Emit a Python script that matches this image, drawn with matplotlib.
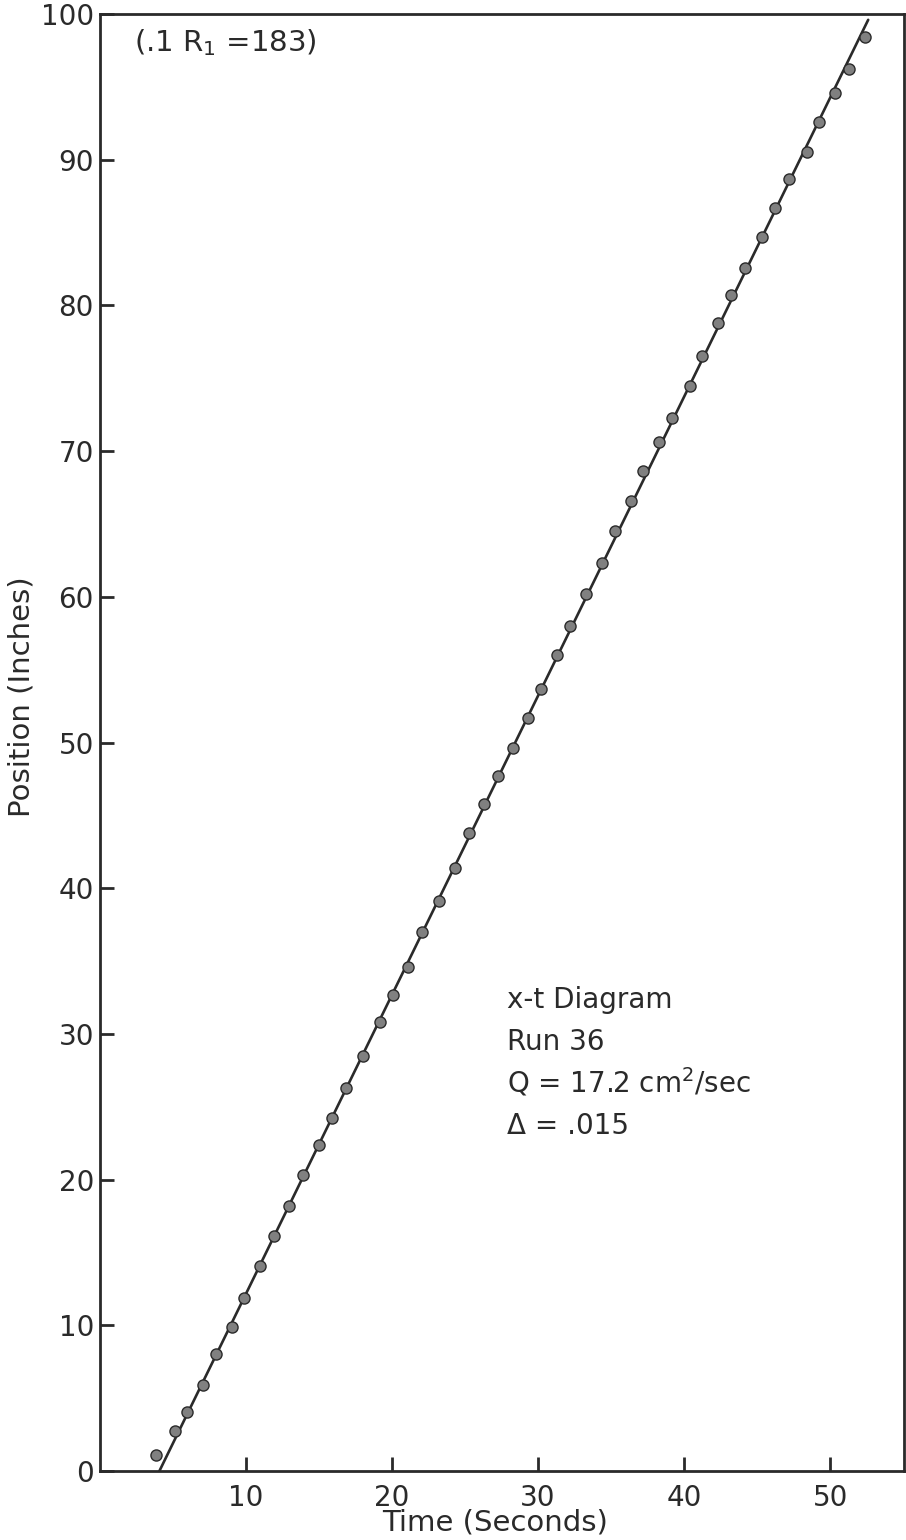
import numpy as np
import matplotlib.pyplot as plt

# Run 36: front position vs time
time_s = [3.9, 5.2, 6.0, 7.05, 8.0, 9.1, 9.9, 11.0, 11.97, 13.0,
          13.95, 15.05, 15.9, 16.9, 18.06, 19.2, 20.1, 21.1, 22.1, 23.2,
          24.3, 25.25, 26.3, 27.3, 28.3, 29.3, 30.2, 31.3, 32.2, 33.3,
          34.4, 35.3, 36.4, 37.2, 38.3, 39.2, 40.4, 41.2, 42.3, 43.2,
          44.2, 45.3, 46.25, 47.2, 48.4, 49.2, 50.3, 51.3, 52.35]
position_in = [1.1, 2.75, 4.05, 5.9, 8.0, 9.9, 11.9, 14.1, 16.1, 18.2,
               20.3, 22.4, 24.2, 26.3, 28.5, 30.8, 32.7, 34.6, 37.0, 39.1,
               41.4, 43.8, 45.8, 47.7, 49.6, 51.7, 53.7, 56.0, 58.0, 60.2,
               62.3, 64.5, 66.6, 68.6, 70.6, 72.3, 74.5, 76.5, 78.8, 80.7,
               82.6, 84.7, 86.7, 88.7, 90.5, 92.6, 94.6, 96.2, 98.4]

# straight-line fit drawn through the data
fit_t = [4.1, 52.6]
fit_x = [0.0, 99.6]

x_ticks = [10, 20, 30, 40, 50]
y_ticks = [0, 10, 20, 30, 40, 50, 60, 70, 80, 90, 100]

ink = "#2a2a2a"
plt.rcParams['font.family'] = ['DejaVu Sans']

fig = plt.figure(figsize=(9.06, 15.4), dpi=100)
ax = fig.add_axes([99.5 / 906, 69 / 1540, 804.5 / 906, 1457 / 1540])

ax.plot(fit_t, fit_x, color=ink, lw=1.9, solid_capstyle='round', zorder=2)
ax.plot(time_s, position_in, 'o', ms=8, mfc="#808080", mec=ink,
        mew=1.0, zorder=3)

ax.set_xlim(0, 55.05)
ax.set_ylim(0, 100)
ax.set_xticks(x_ticks)
ax.set_yticks(y_ticks)
ax.tick_params(direction='in', length=10, width=2.0, color=ink,
               labelsize=20, labelcolor=ink, pad=9)
ax.tick_params(axis='y', pad=4)
for side in ax.spines.values():
    side.set_linewidth(2.0)
    side.set_color(ink)

fig.text(495 / 906, 1 - 1523 / 1540, "Time (Seconds)", ha='center',
         va='center', fontsize=21, color=ink)
fig.text(22 / 906, 1 - 697 / 1540, "Position (Inches)", rotation=90,
         ha='center', va='center', fontsize=21, color=ink)

ax.text(0.043, 0.991, r"(.1 R$_\mathregular{1}$ =183)", transform=ax.transAxes,
        ha='left', va='top', fontsize=21, color=ink)

notes = ["x-t Diagram", "Run 36", r"Q = 17.2 cm$^\mathregular{2}$/sec",
         "\u0394 = .015"]
for i, line in enumerate(notes):
    fig.text(507 / 906, 1 - (1008 + 42 * i) / 1540, line, ha='left',
             va='baseline', fontsize=20, color=ink)

fig.savefig("out.png", dpi=100)
